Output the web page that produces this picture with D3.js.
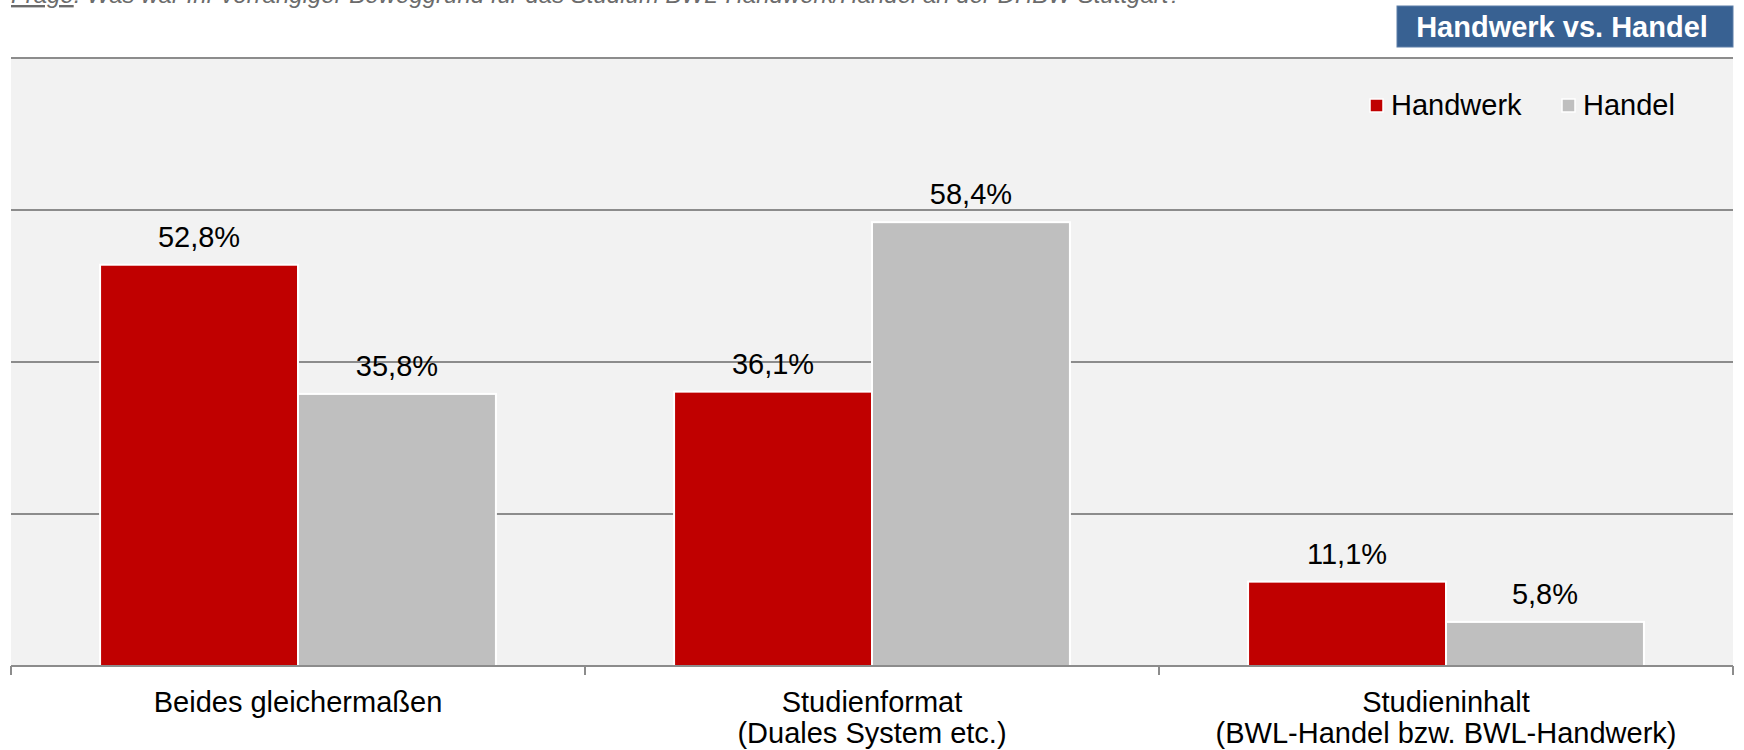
<!DOCTYPE html>
<html>
<head>
<meta charset="utf-8">
<script src="https://cdn.jsdelivr.net/npm/d3@7"></script>
<style>
  html, body { margin: 0; padding: 0; background: #ffffff; }
  svg { display: block; font-family: "Liberation Sans", Arial, sans-serif; }
</style>
</head>
<body>
<svg id="chart" width="1744" height="750"></svg>
<script>
// ---- data ----
const categories = ["Beides gleichermaßen", "Studienformat (Duales System etc.)", "Studieninhalt (BWL-Handel bzw. BWL-Handwerk)"];
const categoryLines = [
  ["Beides gleichermaßen"],
  ["Studienformat", "(Duales System etc.)"],
  ["Studieninhalt", "(BWL-Handel bzw. BWL-Handwerk)"]
];
const seriesNames = ["Handwerk", "Handel"];
const handwerkValues = [52.8, 36.1, 11.1];
const handelValues = [35.8, 58.4, 5.8];
const yTicks = [0, 20, 40, 60, 80];
const titleText = "Handwerk vs. Handel";
const questionLabel = "Frage";
const questionText = ": Was war Ihr vorrangiger Beweggrund für das Studium BWL-Handwerk/Handel an der DHBW Stuttgart?";

const seriesColors = { "Handwerk": "#c00000", "Handel": "#bfbfbf" };

const rows = categories.map((c, i) => ({
  category: c,
  lines: categoryLines[i],
  values: [
    { series: "Handwerk", value: handwerkValues[i] },
    { series: "Handel", value: handelValues[i] }
  ]
}));

// ---- layout ----
const svg = d3.select("#chart");
const plot = { left: 11, right: 1733, top: 58, bottom: 666 };

const x0 = d3.scaleBand().domain(categories).range([plot.left, plot.right]).paddingInner(0).paddingOuter(0);
const x1 = d3.scaleBand().domain(seriesNames).range([0, x0.bandwidth()]).paddingInner(0).paddingOuter(0.45);
const y = d3.scaleLinear().domain([0, 80]).range([plot.bottom, plot.top]);

// question line (clipped at top in the original)
const q = svg.append("text")
  .attr("x", 11).attr("y", 3)
  .attr("font-size", 24).attr("font-style", "italic")
  .attr("fill", "#6b6b6b");
q.append("tspan").attr("text-decoration", "underline").text(questionLabel);
q.append("tspan").text(questionText);

// title box
const tb = svg.append("g");
tb.append("rect").attr("x", 1397).attr("y", 6).attr("width", 336).attr("height", 41)
  .attr("fill", "#386192").attr("stroke", "#5d7fa8").attr("stroke-width", 1);
tb.append("text").attr("x", 1562).attr("y", 37).attr("text-anchor", "middle")
  .attr("font-size", 29).attr("font-weight", "bold").attr("fill", "#ffffff")
  .text(titleText);

// plot background
svg.append("rect")
  .attr("x", plot.left).attr("y", plot.top)
  .attr("width", plot.right - plot.left).attr("height", plot.bottom - plot.top)
  .attr("fill", "#f2f2f2");

// gridlines
svg.append("g").selectAll("line").data(yTicks.filter(t => t > 0)).join("line")
  .attr("x1", plot.left).attr("x2", plot.right)
  .attr("y1", d => y(d)).attr("y2", d => y(d))
  .attr("stroke", "#8c8c8c").attr("stroke-width", 2);

// bars
const groups = svg.append("g").selectAll("g").data(rows).join("g")
  .attr("transform", d => `translate(${x0(d.category)},0)`);

groups.selectAll("rect").data(d => d.values).join("rect")
  .attr("x", d => x1(d.series))
  .attr("y", d => y(d.value))
  .attr("width", x1.bandwidth())
  .attr("height", d => y(0) - y(d.value))
  .attr("fill", d => seriesColors[d.series])
  .attr("stroke", "#ffffff").attr("stroke-width", 2);

groups.selectAll("text.val").data(d => d.values).join("text")
  .attr("class", "val")
  .attr("x", d => x1(d.series) + x1.bandwidth() / 2)
  .attr("y", d => y(d.value) - 18)
  .attr("text-anchor", "middle")
  .attr("font-size", 29).attr("fill", "#000")
  .text(d => d.value.toFixed(1).replace(".", ",") + "%");

// x axis
const axis = svg.append("g");
axis.append("line")
  .attr("x1", plot.left).attr("x2", plot.right)
  .attr("y1", plot.bottom).attr("y2", plot.bottom)
  .attr("stroke", "#8c8c8c").attr("stroke-width", 2);
const tickXs = categories.map(c => x0(c)).concat([x0(categories[categories.length - 1]) + x0.bandwidth()]);
axis.selectAll("line.tick").data(tickXs).join("line")
  .attr("class", "tick")
  .attr("x1", d => d).attr("x2", d => d)
  .attr("y1", plot.bottom).attr("y2", plot.bottom + 9)
  .attr("stroke", "#8c8c8c").attr("stroke-width", 2);

const labels = axis.selectAll("text.cat").data(rows).join("text")
  .attr("class", "cat")
  .attr("x", d => x0(d.category) + x0.bandwidth() / 2)
  .attr("y", 712)
  .attr("text-anchor", "middle")
  .attr("font-size", 29).attr("fill", "#000");
labels.selectAll("tspan").data(d => d.lines).join("tspan")
  .attr("x", function() { return d3.select(this.parentNode).attr("x"); })
  .attr("y", (d, i) => 712 + i * 31)
  .text(d => d);

// legend
const legendItems = [
  { name: "Handwerk", sx: 1369, tx: 1391 },
  { name: "Handel", sx: 1561, tx: 1583 }
];
const lg = svg.append("g").selectAll("g").data(legendItems).join("g");
lg.append("rect")
  .attr("x", d => d.sx + 1).attr("y", 99).attr("width", 13).attr("height", 13)
  .attr("fill", d => seriesColors[d.name]).attr("stroke", "#ffffff").attr("stroke-width", 1.5);
lg.append("text")
  .attr("x", d => d.tx).attr("y", 115)
  .attr("font-size", 29).attr("fill", "#000")
  .text(d => d.name);
</script>
</body>
</html>
